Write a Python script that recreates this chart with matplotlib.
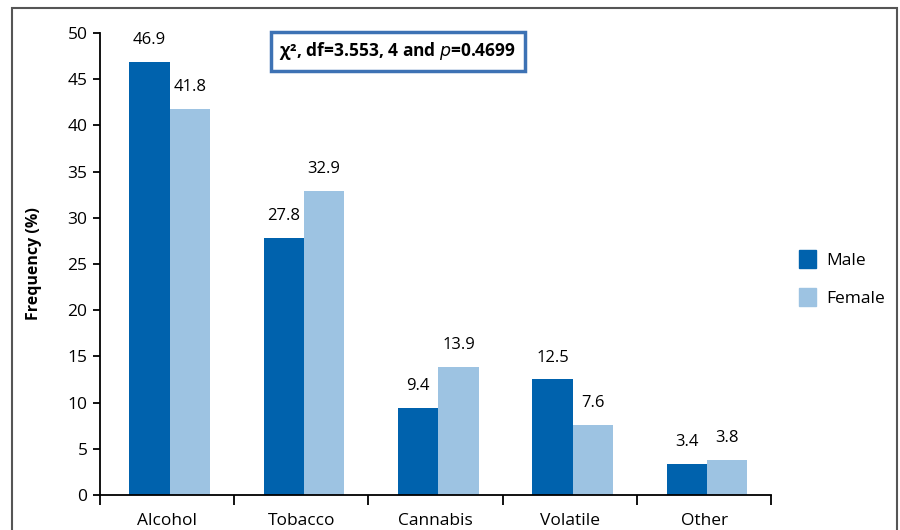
import numpy as np
import matplotlib.pyplot as plt
from matplotlib.patches import Rectangle, Patch

# data
categories = ['Alcohol', 'Tobacco', 'Cannabis', 'Volatile', 'Other']
male = [46.9, 27.8, 9.4, 12.5, 3.4]
female = [41.8, 32.9, 13.9, 7.6, 3.8]
yticks = [0, 5, 10, 15, 20, 25, 30, 35, 40, 45, 50]

c_male = '#0062ad'
c_female = '#9dc3e2'

plt.rcParams['font.family'] = ['Open Sans', 'DejaVu Sans']

fig = plt.figure(figsize=(9, 5.3), dpi=100)
ax = fig.add_axes([0.111, 0.066, 0.746, 0.872])

x = np.arange(len(categories))
w = 0.3
off = 0.02
b1 = ax.bar(x - w / 2 + off, male, w, color=c_male, zorder=2)
b2 = ax.bar(x + w / 2 + off, female, w, color=c_female, zorder=2)

for bars, vals in [(b1, male), (b2, female)]:
    for b, v in zip(bars, vals):
        ax.annotate(f'{v:.1f}', (b.get_x() + b.get_width() / 2, v),
                    xytext=(0, 10), textcoords='offset points',
                    ha='center', va='bottom', fontsize=12)

ax.set_xlim(-0.5, len(categories) - 0.5)
ax.set_ylim(0, 50)
ax.set_yticks(yticks)
ax.set_xticks(x)
ax.set_xticklabels(categories)
ax.set_xticks(np.arange(-0.5, len(categories)), minor=True)
ax.tick_params(axis='x', which='major', length=0, pad=13, labelsize=12.5)
ax.tick_params(axis='x', which='minor', length=7, width=1.3, direction='out')
ax.tick_params(axis='y', length=5, width=1.3, labelsize=12.5, pad=4)

for s in ['top', 'right']:
    ax.spines[s].set_visible(False)
for s in ['left', 'bottom']:
    ax.spines[s].set_linewidth(1.3)

ax.set_ylabel('Frequency (%)', fontsize=11.5, fontweight='bold', labelpad=18)

# chi-square box
fig.text(0.442, 0.903, 'χ², df=3.553, 4 and $\\mathbf{\\mathit{p}}$=0.4699',
         ha='center', va='center', fontsize=12.5, fontweight='bold',
         bbox=dict(boxstyle='square,pad=0.5', facecolor='white',
                   edgecolor='#3d72b4', linewidth=2.5))

# legend
handles = [Patch(color=c_male, label='Male'), Patch(color=c_female, label='Female')]
fig.legend(handles=handles, loc='center left', bbox_to_anchor=(0.87, 0.475),
           frameon=False, fontsize=12.5, handlelength=1.0, handleheight=1.2,
           labelspacing=1.1, handletextpad=0.6)

# outer frame
fig.patches.append(Rectangle((12 / 900, -0.1), 885 / 900, 1.1 - 8 / 530,
                             transform=fig.transFigure, fill=False,
                             edgecolor='#555555', linewidth=1.5))

fig.savefig('out.png', dpi=100)
